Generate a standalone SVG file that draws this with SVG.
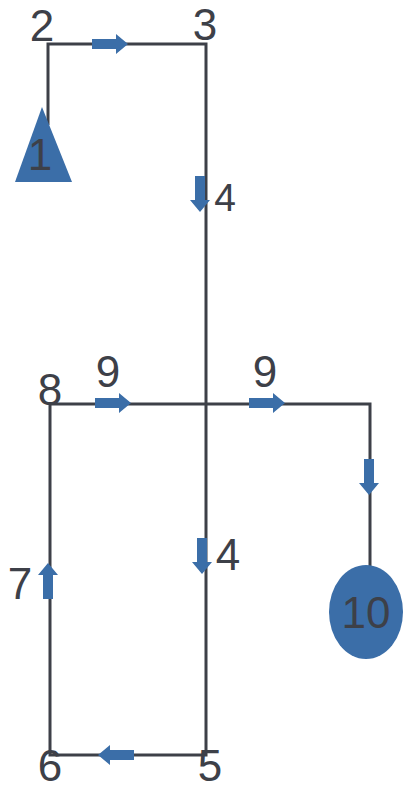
<svg xmlns="http://www.w3.org/2000/svg" xmlns:xlink="http://www.w3.org/1999/xlink" width="405" height="790" viewBox="0 0 405 790">
<style>
.ln{stroke:#3d4048;stroke-width:3;fill:none;stroke-linejoin:miter}
.blue{fill:#3b6ea8}
.lbl{font-family:"Liberation Sans",Arial,sans-serif;font-size:44px;fill:#3d4048;text-anchor:middle}
</style>
<defs>
<path id="arr" class="blue" d="M-18,-5 L6,-5 L6,-10 L18,0 L6,10 L6,5 L-18,5 Z"/>
</defs>
<rect width="405" height="790" fill="#ffffff"/>
<g id="connectors">
<path class="ln" d="M48,125 L48,44 L206,44 L206,755 L50,755 L50,404 L370,404 L370,566"/>
<use xlink:href="#arr" transform="translate(110,44)"/>
<use xlink:href="#arr" transform="translate(200,194) rotate(90)"/>
<use xlink:href="#arr" transform="translate(113,403)"/>
<use xlink:href="#arr" transform="translate(267,403)"/>
<use xlink:href="#arr" transform="translate(369,477) rotate(90)"/>
<use xlink:href="#arr" transform="translate(202,556) rotate(90)"/>
<use xlink:href="#arr" transform="translate(48,581) rotate(-90)"/>
<use xlink:href="#arr" transform="translate(116,755) rotate(180)"/>
</g>
<g id="node1">
<polygon class="blue" points="42,107 72,182 15,182"/>
<text class="lbl" x="40" y="170">1</text>
</g>
<g id="node2"><text class="lbl" x="42" y="41">2</text></g>
<g id="node3"><text class="lbl" x="205" y="40">3</text></g>
<g id="node4a"><text class="lbl" x="225" y="211" style="font-size:39px">4</text></g>
<g id="node4b"><text class="lbl" x="228" y="570">4</text></g>
<g id="node5"><text class="lbl" x="210" y="781">5</text></g>
<g id="node6"><text class="lbl" x="50" y="781">6</text></g>
<g id="node7"><text class="lbl" x="20" y="599">7</text></g>
<g id="node8"><text class="lbl" x="50" y="405">8</text></g>
<g id="node9a"><text class="lbl" x="108" y="387">9</text></g>
<g id="node9b"><text class="lbl" x="265" y="387">9</text></g>
<g id="node10">
<ellipse class="blue" cx="366" cy="612" rx="37" ry="47"/>
<text class="lbl" x="366" y="628">10</text>
</g>
</svg>
